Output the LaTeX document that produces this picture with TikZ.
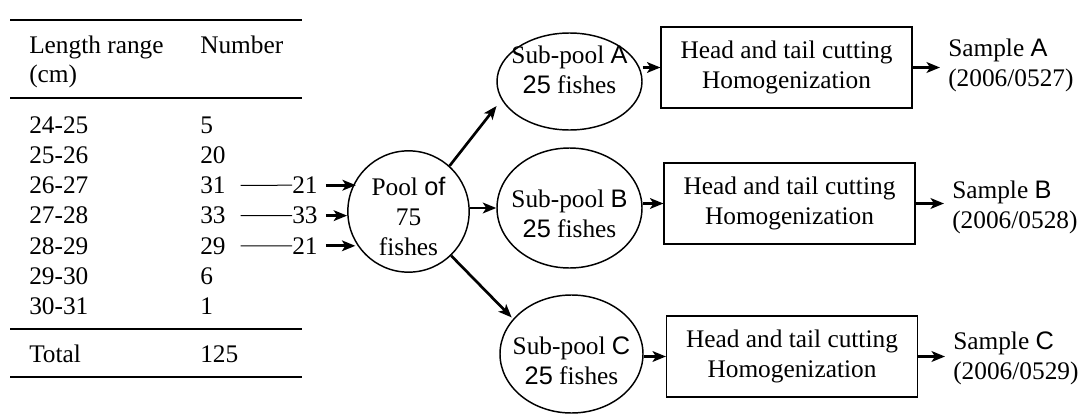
\documentclass[tikz,border=0pt]{standalone}
\usepackage{fontspec}
\setmainfont{Liberation Serif}
\newfontfamily\arialfont{Liberation Sans}
\usetikzlibrary{shapes.geometric,arrows.meta}

\tikzset{
  cell/.style={anchor=base west,inner sep=0pt},
  rule/.style={line width=2pt},
  feed/.style={line width=0.75pt},
  arr/.style={line width=2pt,-{Stealth[length=10pt,width=8pt,inset=2.5pt]}},
  poolshape/.style={circle,draw,line width=1.1pt,minimum size=91pt,inner sep=0pt,align=center},
  subpool/.style={ellipse,draw,line width=1.1pt,inner sep=0pt},
  stepbox/.style={draw,line width=1.1pt,minimum width=188pt,minimum height=61pt,align=center,inner sep=0pt},
  samplelabel/.style={anchor=west,align=left,inner sep=0pt},
}

\begin{document}
\begin{tikzpicture}[x=0.75pt,y=0.75pt,yscale=-1,font=\fontsize{19}{22.5}\selectfont]
\useasboundingbox (0,0) rectangle (1079,414);

%Table rules
\draw[rule] (10,20) -- (302,20);
\draw[rule] (10,98) -- (302,98);
\draw[rule] (10,329) -- (302,329);
\draw[rule] (10,377) -- (302,377);

% Header
\node[cell] (hlen) at (29,53) {Length range};
\node[cell] (hcm) at (29,82) {(cm)};
\node[cell] (hnum) at (200,53) {Number};

% Rows
\foreach \rng/\cnt [count=\i] in {24-25/5,25-26/20,26-27/31,27-28/33,28-29/29,29-30/6,30-31/1}{
  \node[cell] (len\i) at (29,{133+30.3*(\i-1)}) {\rng};
  \node[cell] (num\i) at (200,{133+30.3*(\i-1)}) {\cnt};
}
\node[cell] (tot) at (29,362) {Total};
\node[cell] (totnum) at (200,362) {125};

% Taken counts
\node[cell] (take1) at (292,193.6) {21};
\node[cell] (take2) at (292,223.9) {33};
\node[cell] (take3) at (292,254.2) {21};

% Pool
\node[poolshape] (pool) at (408.5,211.5) {};
\node[align=center,inner sep=0pt] (pooltext) at (408.5,216) {Pool {\arialfont of}\\75\\fishes};

\draw[feed] ([xshift=11pt]num3.east) -- (take1.west);
\draw[feed] ([xshift=11pt]num4.east) -- (take2.west);
\draw[feed] ([xshift=11pt]num5.east) -- (take3.west);

\draw[arr] ([xshift=6pt]take1.east) -- (take1.east -| pool.149);
\draw[arr] ([xshift=6pt]take2.east) -- (take2.east -| pool.180);
\draw[arr] ([xshift=6pt]take3.east) -- (take3.east -| pool.210);

% Sub-pools
\node[subpool,minimum width=108.75pt,minimum height=72.75pt] (subA) at (569.5,81.5) {};
\node[subpool,minimum width=108.75pt,minimum height=90pt] (subB) at (569.5,208) {};
\node[subpool,minimum width=107.25pt,minimum height=88.5pt] (subC) at (571.5,354) {};
\node[align=center,inner sep=0pt] (subAtext) at (569.5,70) {Sub-pool {\arialfont A}\\{\arialfont 25} fishes};
\node[align=center,inner sep=0pt] (subBtext) at (569.5,213.5) {Sub-pool {\arialfont B}\\{\arialfont 25} fishes};
\node[align=center,inner sep=0pt] (subCtext) at (571.5,361) {Sub-pool {\arialfont C}\\{\arialfont 25} fishes};

\draw[arr,shorten >=6pt] (pool.48) -- (subA.195);
\draw[arr] (pool.east |- subB.west) -- (subB.west);
\draw[arr,shorten >=1.5pt] (pool.314) -- (subC.149);

% Processing
\node[stepbox] (boxA) at (786.5,67.5) {Head and tail cutting\\Homogenization};
\node[stepbox] (boxB) at (789.5,203.5) {Head and tail cutting\\Homogenization};
\node[stepbox] (boxC) at (792,356.5) {Head and tail cutting\\Homogenization};

\draw[arr] (boxA.west -| subA.east) -- (boxA.west);
\draw[arr] (boxB.west -| subB.east) -- (boxB.west);
\draw[arr] (boxC.west -| subC.east) -- (boxC.west);

% Samples
\node[samplelabel] (sampA) at (948,65) {Sample {\arialfont A}\\(2006/0527)};
\node[samplelabel] (sampB) at (952,207.5) {Sample {\arialfont B}\\(2006/0528)};
\node[samplelabel] (sampC) at (953,358) {Sample {\arialfont C}\\(2006/0529)};

\draw[arr,shorten >=6pt] (boxA.east) -- (boxA.east -| sampA.west);
\draw[arr,shorten >=6pt] (boxB.east) -- (boxB.east -| sampB.west);
\draw[arr,shorten >=6pt] (boxC.east) -- (boxC.east -| sampC.west);

\end{tikzpicture}
\end{document}
